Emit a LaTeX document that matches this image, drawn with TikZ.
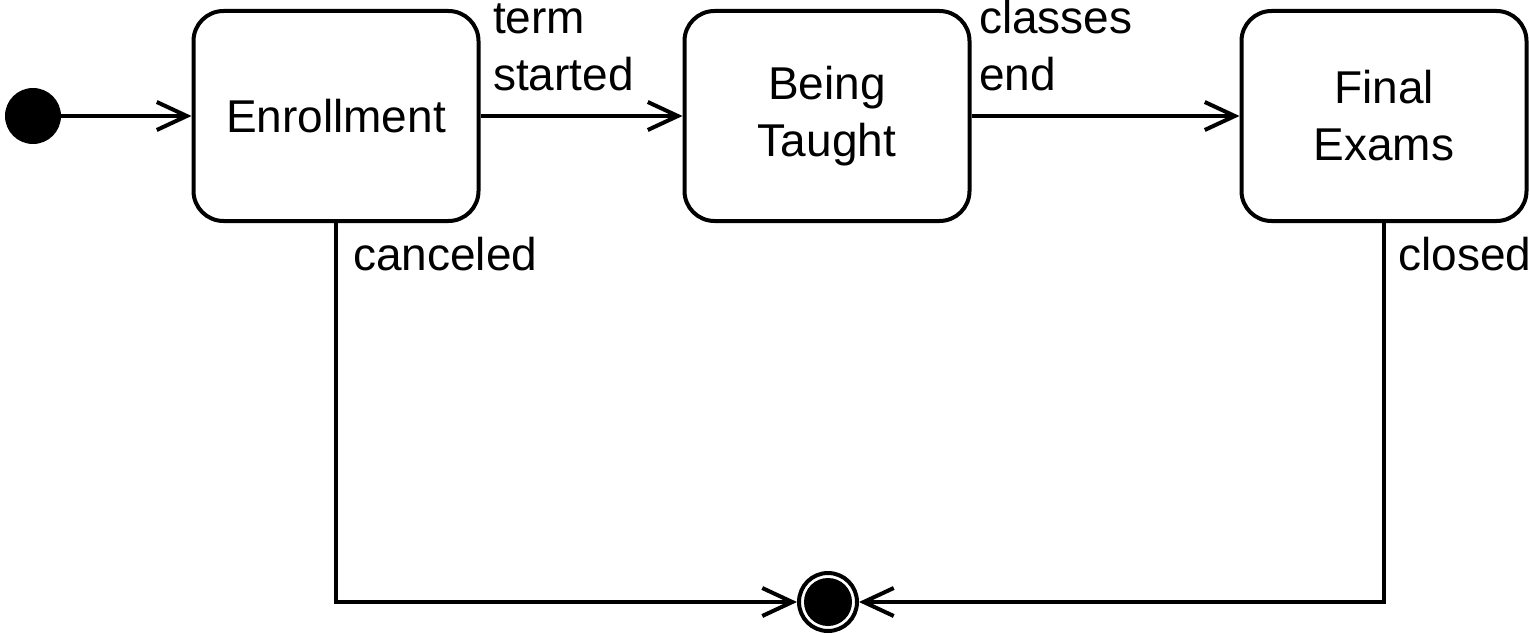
\documentclass[tikz,border=0pt]{standalone}
\usepackage{fontspec}
\setmainfont{Liberation Sans}
\usetikzlibrary{arrows.meta}
\begin{document}
\begin{tikzpicture}[x=1pt,y=-1pt,
  state/.style={draw, line width=4pt, rounded corners=30pt,
    minimum width=285pt, minimum height=210pt, align=center,
    inner sep=0pt, font=\fontsize{46}{57}\selectfont},
  flow/.style={line width=4pt,
    -{Straight Barb[length=30pt,width=28pt,line width=4pt]}},
  lab/.style={font=\fontsize{46}{57}\selectfont, align=left,
    anchor=base west, inner sep=0pt}]
  \useasboundingbox (0,0) rectangle (1529,634);

  % states
  \node[state] (enr)   at (336,116)  {Enrollment};
  \node[state] (teach) at (827,116)  {Being\\Taught};
  \node[state] (exams) at (1384,116) {Final\\Exams};

  % pseudo-states
  \node[circle, fill, minimum size=56pt, inner sep=0pt] (init) at (33,116) {};
  \node[circle, draw, line width=4pt, minimum size=58pt, inner sep=0pt] (final) at (828,602) {};
  \node[circle, fill, minimum size=48pt, inner sep=0pt] (finaldot) at (final.center) {};

  % transitions
  \draw[flow] (init) -- (enr);
  \draw[flow] (enr) -- (teach);
  \draw[flow] (teach) -- (exams);
  \draw[flow] (enr.south) |- (final.west);
  \draw[flow] (exams.south) |- (final.east);

  % transition labels (anchored on the baseline of their last line)
  \node[lab] (lterm)     at (493,90)   {term\\started};
  \node[lab] (lclasses)  at (979,90)   {classes\\end};
  \node[lab] (lcanceled) at (353,270)  {canceled};
  \node[lab] (lclosed)   at (1398,270) {closed};
\end{tikzpicture}
\end{document}
